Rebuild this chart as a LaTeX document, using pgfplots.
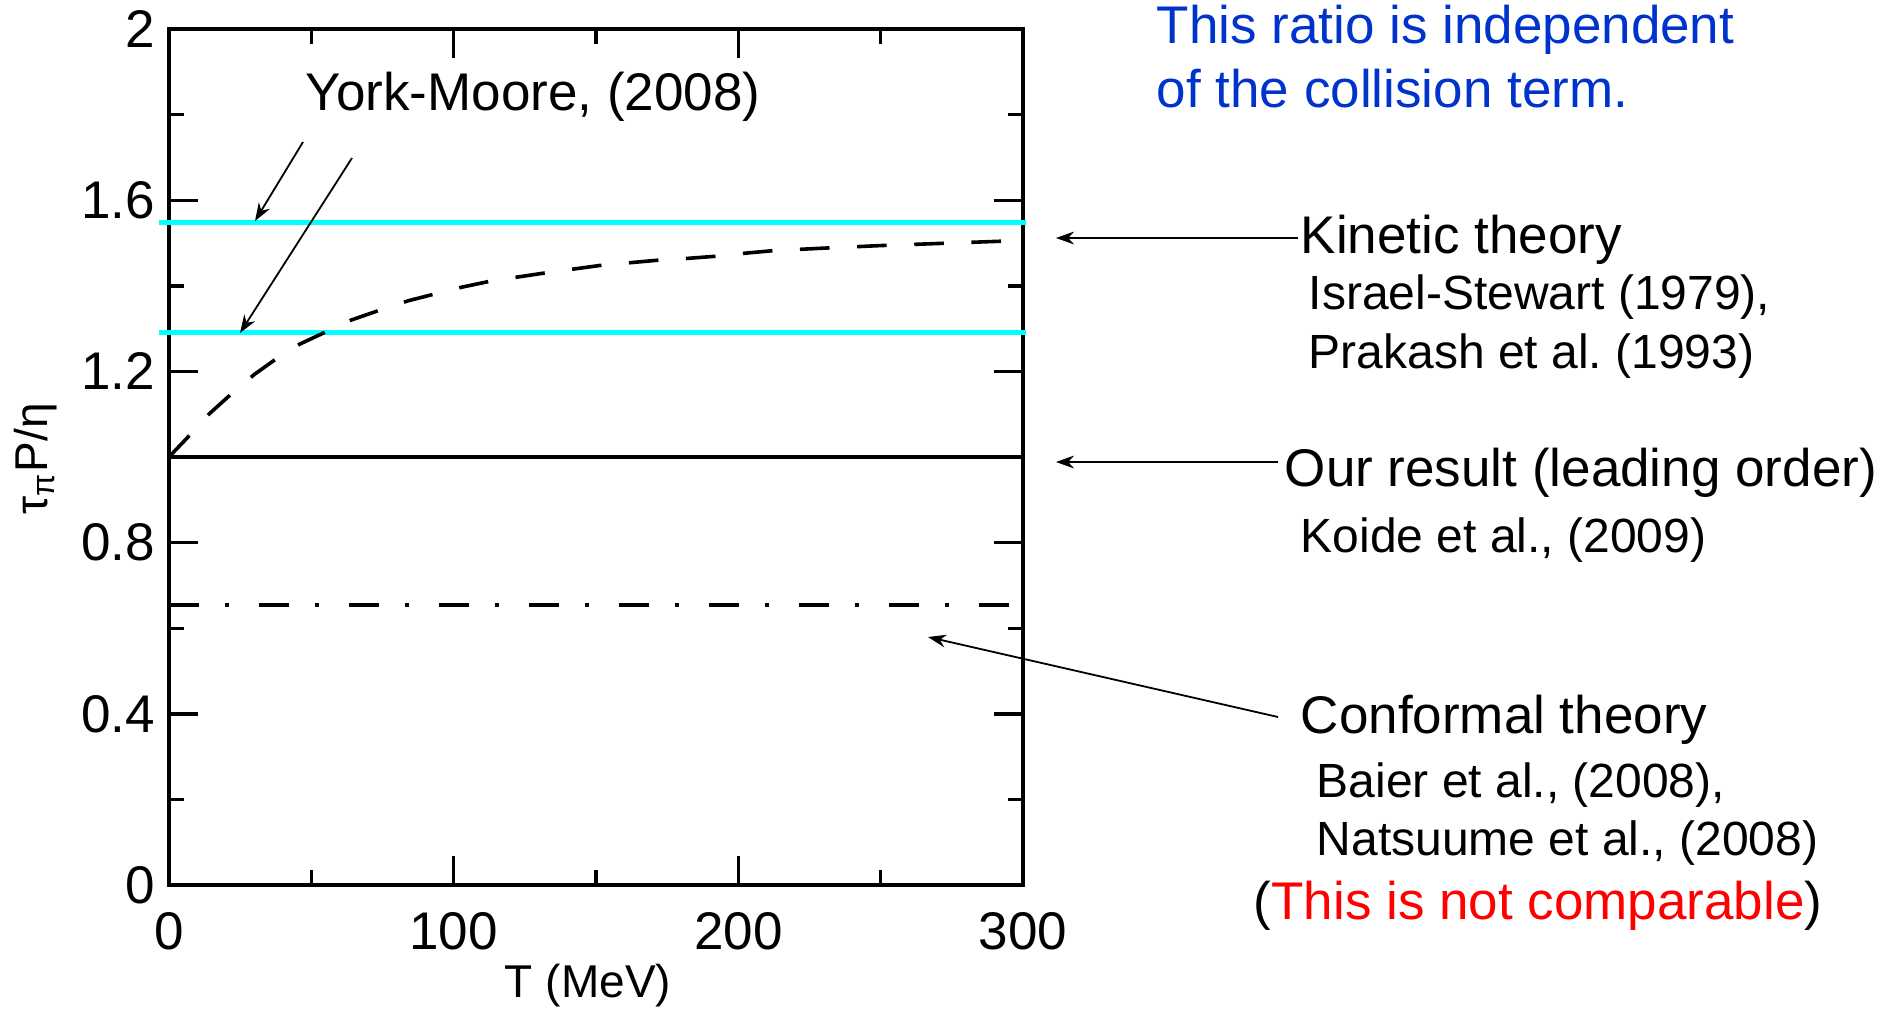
\documentclass[border=0pt]{standalone}
\usepackage{fontspec}
\setmainfont{Liberation Sans}
\usepackage{pgfplots}
\pgfplotsset{compat=1.18}
\usetikzlibrary{arrows.meta}
\definecolor{cyanline}{RGB}{0,255,255}
\definecolor{bluetext}{RGB}{0,51,204}
\definecolor{redtext}{RGB}{255,0,0}
\newcommand{\mainfs}{\fontsize{13.25}{15.9}\selectfont}
\newcommand{\citefs}{\fontsize{12}{14.4}\selectfont}
\newcommand{\labfs}{\fontsize{11.5}{13.8}\selectfont}

\pgfplotstableread{
T y
0 1.000
4 1.028
8 1.056
14 1.100
22 1.148
30 1.193
38 1.231
46 1.264
55 1.292
64 1.320
74 1.343
84 1.365
94 1.382
103 1.397
113 1.411
122 1.420
133 1.431
142 1.439
153 1.449
162 1.454
172 1.460
182 1.464
192 1.469
202 1.476
212 1.482
230 1.488
250 1.494
275 1.500
300 1.506
}\kinetic

\begin{document}
\begin{tikzpicture}
\useasboundingbox (0,0) rectangle (470.25pt,252.5pt);
\begin{axis}[
  at={(42.25pt,31.25pt)}, anchor=south west,
  width=213.5pt, height=214pt, scale only axis,
  xmin=0, xmax=300, ymin=0, ymax=2,
  xtick={0,100,200,300}, ytick={0,0.4,0.8,1.2,1.6,2},
  minor xtick={50,150,250}, minor ytick={0.2,0.6,1.0,1.4,1.8},
  tick pos=both, tick align=inside,
  major tick length=7.25pt, minor tick length=3.75pt,
  tick style={line width=0.85pt, black},
  axis line style={line width=1.1pt},
  tick label style={font=\mainfs},
  /pgf/number format/assume math mode=true,
  xticklabel style={yshift=-3.4pt},
  clip=false,
]
\addplot[cyanline, line width=1.25pt] coordinates {(-3.5,1.549) (301,1.549)};
\addplot[cyanline, line width=1.25pt] coordinates {(-3.5,1.290) (301,1.290)};
\addplot[black, line width=0.85pt] coordinates {(0,1) (300,1)};
\addplot[black, line width=0.9pt, dash pattern=on 7.4pt off 6.9pt] table[x=T,y=y] {\kinetic};
\addplot[black, line width=1pt, dash pattern=on 7.5pt off 6.5pt on 1pt off 7.5pt] coordinates {(0,0.654) (300,0.654)};
\end{axis}
\begin{scope}[shift={(0pt,252.5pt)}, x=0.25pt, y=-0.25pt]
\tikzset{arr/.style={line width=0.45pt, -{Stealth[length=4.5pt, width=3.2pt]}}}
\draw[arr] (303,142) -- (255,221);
\draw[arr] (352,158) -- (240,333);
\draw[arr] (1298,238) -- (1056,238);
\draw[arr] (1278,462) -- (1056,462);
\draw[arr] (1278,717) -- (928,637);
\node[anchor=base west, inner sep=0, font=\mainfs] at (305,110) {York-Moore, (2008)};
\node[anchor=base west, inner sep=0, font=\mainfs, text=bluetext] at (1156,43) {This ratio is independent};
\node[anchor=base west, inner sep=0, font=\mainfs, text=bluetext] at (1156,107) {of the collision term.};
\node[anchor=base west, inner sep=0, font=\mainfs] at (1300,253) {Kinetic theory};
\node[anchor=base west, inner sep=0, font=\citefs] at (1308,309) {Israel-Stewart (1979),};
\node[anchor=base west, inner sep=0, font=\citefs] at (1308,368) {Prakash et al.\ (1993)};
\node[anchor=base west, inner sep=0, font=\mainfs] at (1284,486) {Our result (leading order)};
\node[anchor=base west, inner sep=0, font=\citefs] at (1300,552) {Koide et al., (2009)};
\node[anchor=base west, inner sep=0, font=\mainfs] at (1300,733) {Conformal theory};
\node[anchor=base west, inner sep=0, font=\citefs] at (1316,797) {Baier et al., (2008),};
\node[anchor=base west, inner sep=0, font=\citefs] at (1316,855) {Natsuume et al., (2008)};
\node[anchor=base west, inner sep=0, font=\mainfs] at (1253,919) {(\textcolor{redtext}{This is not comparable})};
\node[anchor=base, inner sep=0, font=\labfs] at (588,997) {T (MeV)};
\node[rotate=90, anchor=base, inner sep=0, font=\labfs] at (47,459) {τ\textsubscript{π}P/η};
\end{scope}
\end{tikzpicture}
\end{document}
